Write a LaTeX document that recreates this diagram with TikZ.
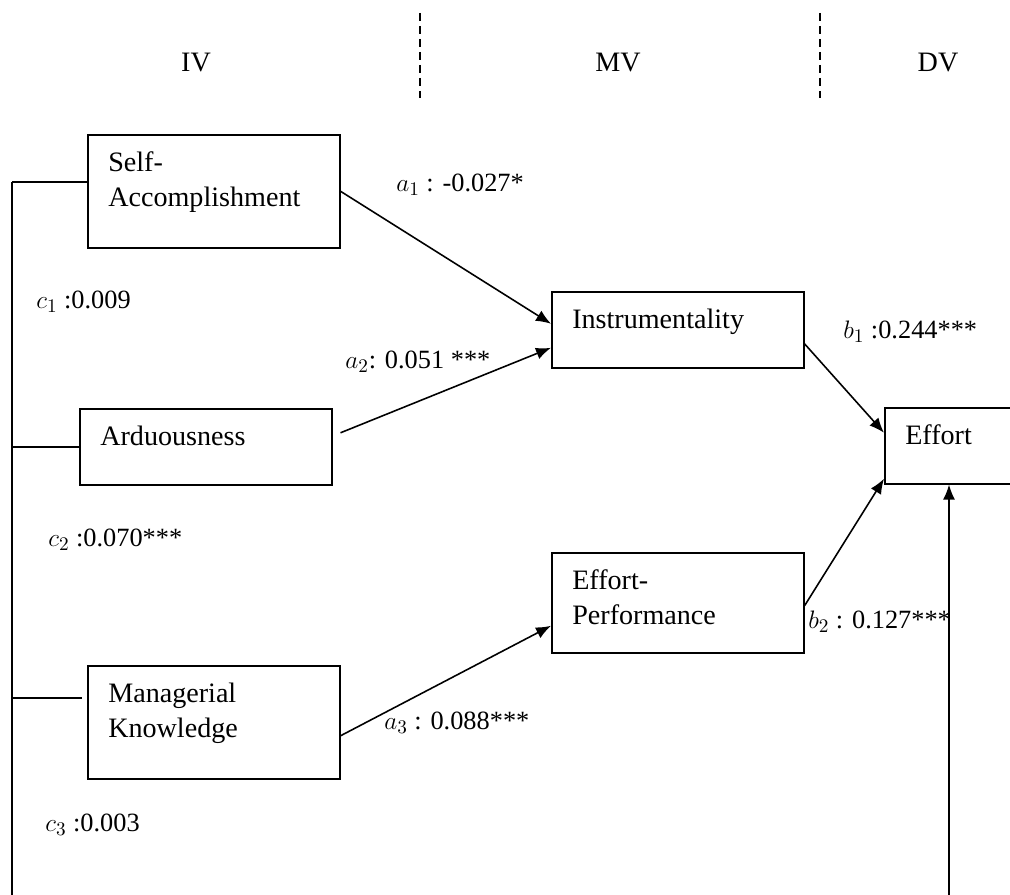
\documentclass[tikz,border=0pt]{standalone}
\usepackage{amsmath, amssymb}
\usepackage{tikz}
\usetikzlibrary{arrows.meta, calc}
\usepackage{tkz-euclide}
\usepackage{fontspec}
\setmainfont{Liberation Serif}

\newcommand{\boxtxt}[3]{\parbox[t][#2][t]{#1}{\raggedright\leftskip=0.41cm\rule{0pt}{0.74cm}#3}}

\tikzset{
  varbox/.style={draw, line width=0.9pt, anchor=north west, inner sep=0pt, font=\rmfamily\fontsize{16}{20}\selectfont},
  coef/.style={anchor=west, inner sep=0pt, font=\rmfamily\fontsize{15}{18}\selectfont},
  head/.style={font=\rmfamily\fontsize{16}{20}\selectfont},
  arr/.style={-{Latex[length=0.3cm,width=0.24cm]}, line width=0.9pt},
  wire/.style={line width=0.9pt},
}

\begin{document}
\begin{tikzpicture}[x=0.02cm, y=-0.02cm]
    \useasboundingbox (0,0) rectangle (1010,895);

    % --- 1. 標題 IV, MV, DV 與虛線 ---
    \node[head] (iv) at (196,63) {IV};
    \node[head] (mv) at (618,63) {MV};
    \node[head] (dv) at (938,63) {DV};
    \tkzDefPoint(420,13){L_1} \tkzDefPoint(420,98){L_2}
    \tkzDefPoint(820,13){R_1} \tkzDefPoint(820,98){R_2}
    \draw[line width=0.7pt, dash pattern=on 0.16cm off 0.1cm] (L_1) -- (L_2);
    \draw[line width=0.7pt, dash pattern=on 0.16cm off 0.1cm] (R_1) -- (R_2);

    % --- 2. 變數方框 ---
    \node[varbox] (sa) at (87,134) {\boxtxt{5.04cm}{2.26cm}{Self-\\Accomplishment}};
    \node[varbox] (ard) at (79,408) {\boxtxt{5.04cm}{1.52cm}{Arduousness}};
    \node[varbox] (mk) at (87,665) {\boxtxt{5.04cm}{2.26cm}{Managerial\\Knowledge}};
    \node[varbox] (inst) at (551,291) {\boxtxt{5.04cm}{1.52cm}{Instrumentality}};
    \node[varbox] (ep) at (551,552) {\boxtxt{5.04cm}{2.00cm}{Effort-\\Performance}};
    \node[varbox] (eff) at (884,407) {\boxtxt{2.80cm}{1.52cm}{Effort}};

    % --- 3. 係數標籤 ---
    \node[coef] (a_1) at (396,185) {$a_1$ : -0.027*};
    \node[coef] (a_2) at (345,362) {$a_2$: 0.051 ***};
    \node[coef] (a_3) at (384,723) {$a_3$ : 0.088***};
    \node[coef] (b_1) at (843,332) {$b_1$ :0.244***};
    \node[coef] (b_2) at (808,622) {$b_2$ : 0.127***};
    \node[coef] (c_1) at (36,302) {$c_1$ :0.009};
    \node[coef] (c_2) at (48,540) {$c_2$ :0.070***};
    \node[coef] (c_3) at (45,825) {$c_3$ :0.003};

    % --- 4. 路徑 a, b ---
    \draw[arr] (sa.east) -- ([yshift=0.12cm]inst.west);
    \draw[arr] ([shift={(0.16cm,0.28cm)}]ard.east) -- ([yshift=-0.36cm]inst.west);
    \draw[arr] ([yshift=-0.27cm]mk.east) -- ([yshift=-0.46cm]ep.west);
    \draw[arr] ([yshift=-0.28cm]inst.east) -- ([yshift=0.26cm]eff.west);
    \draw[arr] ([yshift=-0.06cm]ep.east) -- ([yshift=-0.66cm]eff.west);

    % --- 5. 直接效果 c (左側匯流線) ---
    \tkzDefPoint(12,182){B_1} \tkzDefPoint(12,900){B_2}
    \tkzDefPoint(82,698){K} \tkzDefPoint(949,900){E}
    \draw[wire] (B_1) -- (B_2);
    \draw[wire] (B_1) -- (B_1 -| sa.west);
    \draw[wire] (ard.west -| B_1) -- (ard.west);
    \draw[wire] (K -| B_1) -- (K);
    \draw[arr] (E) -- (E |- eff.south);

\end{tikzpicture}
\end{document}
